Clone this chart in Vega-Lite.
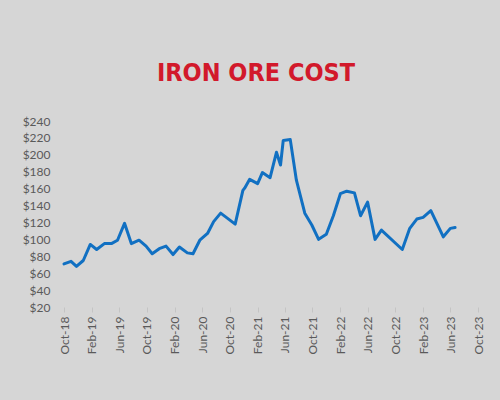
{
  "$schema": "https://vega.github.io/schema/vega-lite/v6.json",
  "width": 414,
  "height": 186,
  "autosize": {"type": "none"},
  "padding": {"left": 64, "top": 121, "right": 22, "bottom": 93},
  "background": "#d6d6d6",
  "title": {
    "text": "IRON ORE COST",
    "font": "DejaVu Sans Condensed, Roboto, sans-serif",
    "fontWeight": "bold",
    "fontSize": 25,
    "color": "#d2192b",
    "anchor": "middle",
    "dx": -15,
    "offset": 29
  },
  "config": {
    "view": {"stroke": null},
    "axis": {
      "labelFont": "Lato",
      "labelFontSize": 12,
      "labelColor": "#5a5a5a",
      "grid": false,
      "domain": false,
      "title": null
    }
  },
  "data": {
    "values": [
      {"date": "2018-10-01T00:00:00", "cost": 71},
      {"date": "2018-11-01T00:00:00", "cost": 74},
      {"date": "2018-11-25T00:00:00", "cost": 68},
      {"date": "2018-12-25T00:00:00", "cost": 75},
      {"date": "2019-01-25T00:00:00", "cost": 94},
      {"date": "2019-02-22T00:00:00", "cost": 88},
      {"date": "2019-03-28T00:00:00", "cost": 95},
      {"date": "2019-04-28T00:00:00", "cost": 95},
      {"date": "2019-05-25T00:00:00", "cost": 99},
      {"date": "2019-06-25T00:00:00", "cost": 119},
      {"date": "2019-07-25T00:00:00", "cost": 95},
      {"date": "2019-08-28T00:00:00", "cost": 99},
      {"date": "2019-09-28T00:00:00", "cost": 92},
      {"date": "2019-10-25T00:00:00", "cost": 83},
      {"date": "2019-11-25T00:00:00", "cost": 89},
      {"date": "2019-12-25T00:00:00", "cost": 92},
      {"date": "2020-01-25T00:00:00", "cost": 82},
      {"date": "2020-02-22T00:00:00", "cost": 91},
      {"date": "2020-03-28T00:00:00", "cost": 84},
      {"date": "2020-04-22T00:00:00", "cost": 83},
      {"date": "2020-05-22T00:00:00", "cost": 99},
      {"date": "2020-06-25T00:00:00", "cost": 107},
      {"date": "2020-07-22T00:00:00", "cost": 121},
      {"date": "2020-08-22T00:00:00", "cost": 131},
      {"date": "2020-10-25T00:00:00", "cost": 118},
      {"date": "2020-11-28T00:00:00", "cost": 158},
      {"date": "2020-12-07T00:00:00", "cost": 161},
      {"date": "2020-12-28T00:00:00", "cost": 171},
      {"date": "2021-02-01T00:00:00", "cost": 166},
      {"date": "2021-02-22T00:00:00", "cost": 179},
      {"date": "2021-03-28T00:00:00", "cost": 173},
      {"date": "2021-04-25T00:00:00", "cost": 203},
      {"date": "2021-05-13T00:00:00", "cost": 188},
      {"date": "2021-05-25T00:00:00", "cost": 217},
      {"date": "2021-06-25T00:00:00", "cost": 218},
      {"date": "2021-07-22T00:00:00", "cost": 170},
      {"date": "2021-08-28T00:00:00", "cost": 131},
      {"date": "2021-09-28T00:00:00", "cost": 117},
      {"date": "2021-10-28T00:00:00", "cost": 100},
      {"date": "2021-12-01T00:00:00", "cost": 106},
      {"date": "2022-01-01T00:00:00", "cost": 128},
      {"date": "2022-02-01T00:00:00", "cost": 154},
      {"date": "2022-03-01T00:00:00", "cost": 157},
      {"date": "2022-04-04T00:00:00", "cost": 155},
      {"date": "2022-05-01T00:00:00", "cost": 128},
      {"date": "2022-06-01T00:00:00", "cost": 144},
      {"date": "2022-07-04T00:00:00", "cost": 100},
      {"date": "2022-08-01T00:00:00", "cost": 111},
      {"date": "2022-11-01T00:00:00", "cost": 88},
      {"date": "2022-12-04T00:00:00", "cost": 113},
      {"date": "2023-01-04T00:00:00", "cost": 124},
      {"date": "2023-02-01T00:00:00", "cost": 126},
      {"date": "2023-03-07T00:00:00", "cost": 134},
      {"date": "2023-05-01T00:00:00", "cost": 103},
      {"date": "2023-06-01T00:00:00", "cost": 113},
      {"date": "2023-06-22T00:00:00", "cost": 114}
    ]
  },
  "mark": {"type": "line", "color": "#1170c2", "strokeWidth": 3, "strokeJoin": "round", "strokeCap": "round"},
  "encoding": {
    "x": {
      "field": "date",
      "type": "temporal",
      "scale": {"domain": [{"year": 2018, "month": 10, "date": 1}, {"year": 2023, "month": 10, "date": 1}]},
      "axis": {
        "values": [
          {"year": 2018, "month": 10, "date": 1},
          {"year": 2019, "month": 2, "date": 1},
          {"year": 2019, "month": 6, "date": 1},
          {"year": 2019, "month": 10, "date": 1},
          {"year": 2020, "month": 2, "date": 1},
          {"year": 2020, "month": 6, "date": 1},
          {"year": 2020, "month": 10, "date": 1},
          {"year": 2021, "month": 2, "date": 1},
          {"year": 2021, "month": 6, "date": 1},
          {"year": 2021, "month": 10, "date": 1},
          {"year": 2022, "month": 2, "date": 1},
          {"year": 2022, "month": 6, "date": 1},
          {"year": 2022, "month": 10, "date": 1},
          {"year": 2023, "month": 2, "date": 1},
          {"year": 2023, "month": 6, "date": 1},
          {"year": 2023, "month": 10, "date": 1}
        ],
        "format": "%b-%y",
        "labelAngle": -90,
        "labelAlign": "right",
        "labelBaseline": "middle",
        "ticks": true,
        "tickSize": 5,
        "tickColor": "#c4c4c4",
        "labelPadding": 4,
        "labelFlush": false,
        "labelOverlap": false
      }
    },
    "y": {
      "field": "cost",
      "type": "quantitative",
      "scale": {"domain": [20, 240], "nice": false, "zero": false},
      "axis": {
        "values": [20, 40, 60, 80, 100, 120, 140, 160, 180, 200, 220, 240],
        "format": "$,d",
        "ticks": false,
        "labelPadding": 14
      }
    }
  }
}
